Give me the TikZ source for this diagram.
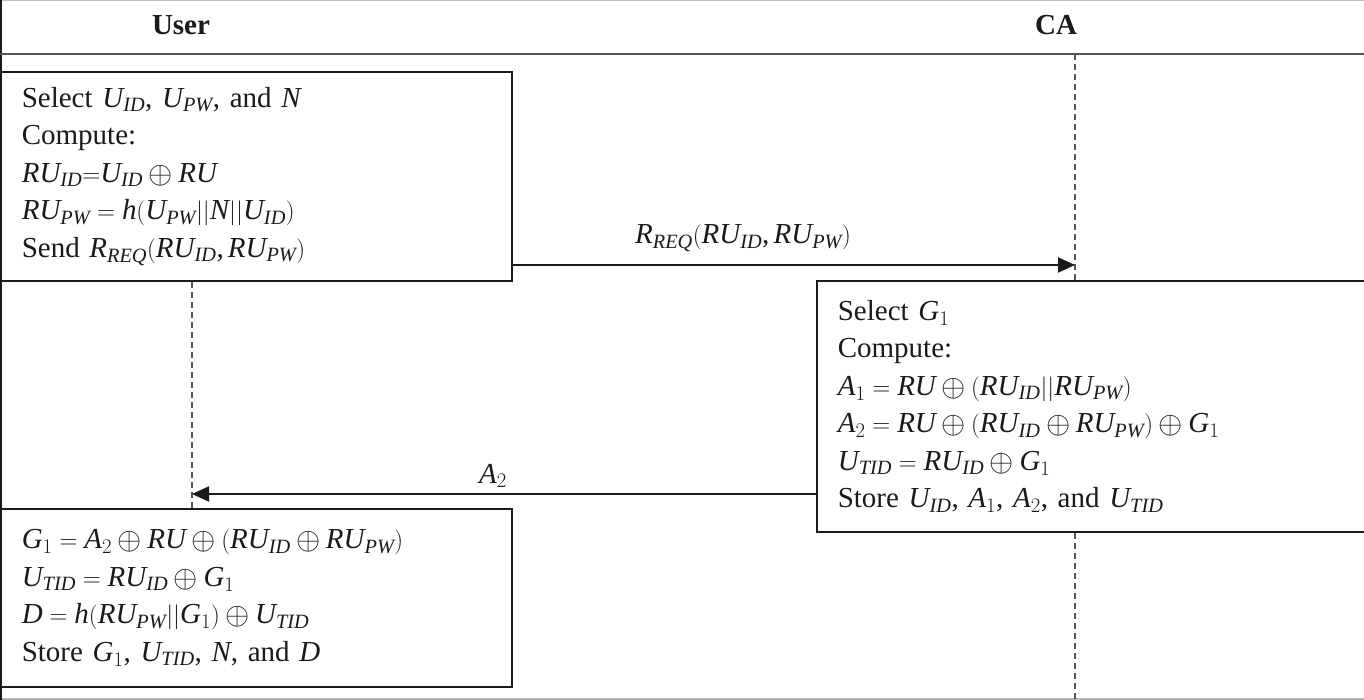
\documentclass[tikz,border=0pt]{standalone}
\usepackage{fontspec}
\setmainfont[NFSSFamily=libser]{Liberation Serif}
\DeclareSymbolFont{letters}{TU}{libser}{m}{it}
\DeclareSymbolFont{operators}{TU}{libser}{m}{n}
\mathcode`,="602C
\usetikzlibrary{arrows.meta}
\newcommand{\xo}{\mathbin{\raisebox{-0.04em}{\scalebox{1.25}{$\oplus$}}}}
\definecolor{ink}{HTML}{1A1A1A}
\definecolor{rule}{HTML}{555555}
\tikzset{
  box/.style={draw=ink, line width=1.6pt, anchor=north west, align=left,
    inner xsep=21pt, inner ysep=0pt, font=\fontsize{29}{37.5}\selectfont, text=ink},
  lbl/.style={font=\fontsize{29}{35}\selectfont, text=ink},
  head/.style={font=\fontsize{29}{35}\selectfont\bfseries, text=ink},
  msg/.style={draw=ink, line width=2pt, -{Triangle[length=17pt,width=15pt]}},
  life/.style={draw=rule, line width=1.3pt, dash pattern=on 6pt off 4pt}
}
\begin{document}
\begin{tikzpicture}[x=1pt,y=-1pt]
\useasboundingbox (0,0) rectangle (1364,700);
% frame
\draw[draw=black!25, line width=1pt] (0,0.5) -- (1364,0.5);
\draw[draw=black!30, line width=1.5pt] (0,699) -- (1364,699);
\draw[draw=ink, line width=1.5pt] (0.75,0) -- (0.75,700);
\draw[draw=rule, line width=2.5pt] (0,54) -- (1364,54);
% headers
\node[head] (user) at (181,25) {User};
\node[head] (ca) at (1056,25) {CA};
% boxes
\node[box, text width=469pt, minimum height=209pt] (box1) at (0,71) {%
Select $U_{ID}$, $U_{PW}$, and $N$\\
Compute:\\
$RU_{ID}{=}U_{ID}\xo RU$\\
$RU_{PW}=h(U_{PW}||N||U_{ID})$\\
Send $R_{REQ}(RU_{ID},RU_{PW})$};
\node[box, text width=512pt, minimum height=251pt] (box2) at (816,280) {%
Select $G_1$\\
Compute:\\
$A_1=RU\xo(RU_{ID}||RU_{PW})$\\
$A_2=RU\xo(RU_{ID}\xo RU_{PW})\xo G_1$\\
$U_{TID}=RU_{ID}\xo G_1$\\
Store $U_{ID}$, $A_1$, $A_2$, and $U_{TID}$};
\node[box, text width=469pt, minimum height=178pt] (box3) at (0,508) {%
$G_1=A_2\xo RU\xo(RU_{ID}\xo RU_{PW})$\\
$U_{TID}=RU_{ID}\xo G_1$\\
$D=h(RU_{PW}||G_1)\xo U_{TID}$\\
Store $G_1$, $U_{TID}$, $N$, and $D$};
% lifelines
\coordinate (cal) at (1075,54);
\coordinate (cab) at (1075,700);
\coordinate (m1) at (1075,265);
\coordinate (m2) at (192,494);
\draw[life] (cal) -- (box2.north -| cal);
\draw[life] (box2.south -| cal) -- (cab);
\draw[life] (box1.south -| m2) -- (box3.north -| m2);
% messages
\draw[msg] (box1.east |- m1) -- (m1);
\node[lbl] (l1) at (743,238) {$R_{REQ}(RU_{ID},RU_{PW})$};
\draw[msg] (box2.west |- m2) -- (m2);
\node[lbl] (l2) at (493,476) {$A_2$};
\end{tikzpicture}
\end{document}
